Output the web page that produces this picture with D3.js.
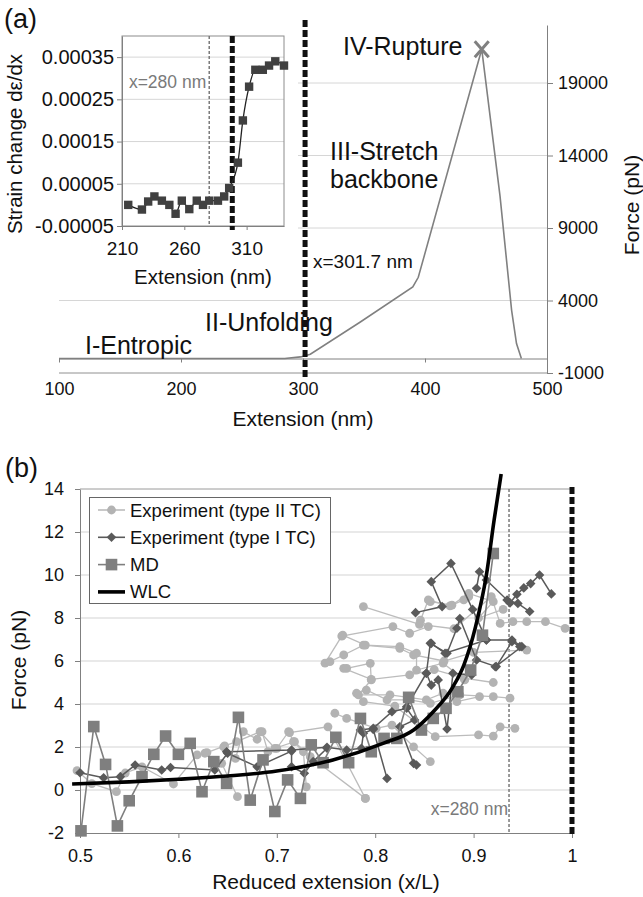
<!DOCTYPE html>
<html>
<head>
<meta charset="utf-8">
<script src="https://cdn.jsdelivr.net/npm/d3@7"></script>
<style>
body { margin: 0; background: #fff; }
text { font-family: "Liberation Sans", Arial, sans-serif; fill: #111; }
</style>
</head>
<body>
<script>
// ---------- datos panel (a): curva fuerza-extension
var mainExt   = [100, 285, 298, 306, 347, 390, 394.5, 446.5, 461.5, 471, 475, 479];
var mainForce = [0, 0, 110, 300, 2520, 4930, 5600, 21330, 11200, 3320, 1030, 0];
var mainXTicks = [100, 200, 300, 400, 500];
var mainYTicks = [-1000, 4000, 9000, 14000, 19000];
var xCrit = 301.7;

// inset: cambio de deformacion
var insetExt    = [215, 226, 231, 236, 242, 248, 253, 258, 264, 270, 275, 280, 287, 292, 296, 303, 307, 312, 317, 323, 328, 333, 340];
var insetStrain = [0, -0.000011, 0.000008, 0.00002, 0.00001, 0, -0.000021, 0.00001, -0.00001, 0.00001, 0, 0.00001,
                   0.00001, 0.00002, 0.00004, 0.0001, 0.0002, 0.00028, 0.00032, 0.00032, 0.00033, 0.00034, 0.00033];
var insetXTicks = [210, 260, 310];
var insetYTicks = [-0.00005, 0.00005, 0.00015, 0.00025, 0.00035];
var insetYLabels = ["-0.00005", "0.00005", "0.00015", "0.00025", "0.00035"];
var insetDash = 298.5;

// ---------- datos panel (b)
var bXTicks = [0.5, 0.6, 0.7, 0.8, 0.9, 1];
var bYTicks = [-2, 0, 2, 4, 6, 8, 10, 12, 14];
var x280 = 0.936;

var mdX = [0.501, 0.514, 0.526, 0.538, 0.550, 0.563, 0.575, 0.587, 0.600, 0.612, 0.624, 0.636, 0.649, 0.661, 0.673, 0.686, 0.698, 0.711,
           0.724, 0.735, 0.747, 0.760, 0.773, 0.785, 0.796, 0.809, 0.822, 0.834, 0.847, 0.859, 0.872, 0.884, 0.897, 0.909, 0.920];
var mdF = [-1.9, 2.95, 1.19, -1.67, -0.5, 0.62, 1.66, 2.51, 1.66, 2.17, -0.08, 1.32, 0.31, 3.38, -0.47, 1.4, -1.0, 0.47,
           -0.39, 2.1, 1.27, 2.45, 1.27, 3.33, 1.78, 2.4, 2.4, 4.31, 2.79, 3.33, 3.8, 4.57, 5.58, 7.2, 11.0];

var wlcX = [0.492, 0.55, 0.60, 0.65, 0.70, 0.757, 0.808, 0.839, 0.859, 0.879, 0.89, 0.902, 0.913, 0.921, 0.928];
var wlcF = [0.28, 0.38, 0.5, 0.65, 0.88, 1.4, 2.17, 2.79, 3.64, 4.8, 5.8, 7.6, 10.0, 12.6, 14.7];

// Experimento tipo II TC (circulos claros), una lista por traza
var typeII = [
  [[0.749,5.9],[0.766,7.16],[0.818,7.6],[0.835,7.29],[0.854,7.6],[0.846,7.9],[0.854,8.84],[0.876,8.56],[0.890,8.84],[0.895,8.99]],
  [[0.788,8.53],[0.845,7.7],[0.880,7.5],[0.918,8.99],[0.927,7.75],[0.940,7.83],[0.954,7.83],[0.973,7.83],[0.993,7.52]],
  [[0.754,5.97],[0.768,6.28],[0.788,6.74],[0.825,6.59],[0.839,6.28],[0.870,6.0],[0.900,6.4],[0.954,6.51]],
  [[0.768,5.66],[0.796,5.15],[0.835,5.35],[0.860,5.6],[0.890,5.2],[0.920,5.0]],
  [[0.781,4.5],[0.791,4.65],[0.812,4.19],[0.835,4.19],[0.856,4.03],[0.886,4.42],[0.920,4.34],[0.937,4.27]],
  [[0.788,4.11],[0.820,3.9],[0.861,2.48],[0.905,2.56],[0.920,2.51],[0.927,2.94],[0.942,2.87]],
  [[0.759,3.57],[0.771,3.33],[0.801,2.87],[0.817,3.02],[0.839,2.01],[0.856,1.32]],
  [[0.713,2.67],[0.752,2.94],[0.790,-0.39]],
  [[0.856,8.76],[0.878,8.6],[0.895,9.14],[0.920,8.76],[0.905,8.0],[0.930,8.4]],
  [[0.767,7.2],[0.790,6.74],[0.825,6.67],[0.842,6.36],[0.842,5.58],[0.869,5.9],[0.891,5.12]],
  [[0.771,5.66],[0.795,5.89],[0.796,5.12],[0.783,4.42],[0.815,4.42],[0.852,4.19],[0.869,4.5],[0.883,4.11],[0.906,4.34]],
  [[0.497,0.9],[0.512,0.3],[0.537,-0.08],[0.546,0.79],[0.563,1.08],[0.595,0.28],[0.619,1.63],[0.627,1.71],[0.644,1.24],[0.660,-0.31]],
  [[0.646,2.0],[0.658,1.47],[0.666,2.71],[0.680,2.36],[0.685,2.71],[0.691,1.78],[0.700,1.94],[0.712,2.71],[0.717,2.25],[0.727,1.78],[0.730,0.15]],
  [[0.629,1.74],[0.647,2.05],[0.659,2.25],[0.683,2.71],[0.698,1.94],[0.718,2.25],[0.734,1.55],[0.790,-0.39]]
];

// Experimento tipo I TC (rombos oscuros)
var typeI = [
  [[0.500,0.8],[0.524,0.57],[0.541,0.62],[0.556,1.16],[0.583,0.93],[0.592,1.05],[0.637,0.93],[0.650,1.71],[0.680,1.08],[0.715,1.81],[0.715,1.08],[0.728,0.78],[0.737,1.32],[0.751,1.94]],
  [[0.649,1.78],[0.715,1.86],[0.751,1.99],[0.771,1.86],[0.786,1.94],[0.788,2.64],[0.798,2.82],[0.812,0.54]],
  [[0.785,2.79],[0.798,2.87],[0.817,3.64],[0.832,3.80],[0.840,3.26],[0.825,2.94],[0.839,1.24],[0.842,1.16]],
  [[0.832,3.87],[0.852,5.43],[0.857,4.88],[0.864,5.12],[0.873,2.84],[0.879,5.43],[0.898,5.35]],
  [[0.852,5.43],[0.856,6.82],[0.873,6.36],[0.883,7.52],[0.886,7.98],[0.903,6.05],[0.923,5.74],[0.939,6.9],[0.947,6.67]],
  [[0.841,8.25],[0.868,8.53],[0.857,9.69],[0.877,10.54],[0.899,8.4],[0.913,6.98]],
  [[0.903,9.38],[0.906,10.15],[0.913,9.77],[0.934,8.84],[0.945,8.68],[0.957,8.3]],
  [[0.937,8.7],[0.944,9.1],[0.951,9.4],[0.958,9.6],[0.967,10.0],[0.979,9.12]],
  [[0.857,6.82],[0.871,6.36],[0.913,6.98],[0.939,6.98],[0.949,6.67],[0.922,5.73]]
];

var legendNames = ["Experiment (type II TC)", "Experiment (type I TC)", "MD", "WLC"];

// ---------- lienzo
var svg = d3.select("body").append("svg")
    .attr("width", 643)
    .attr("height", 897);

function plainAxis(g, size) {
  g.attr("font-family", null).attr("font-size", null);
  g.select(".domain").attr("stroke", "#808080");
  g.selectAll(".tick line").attr("stroke", "#808080");
  g.selectAll(".tick text").attr("font-size", size).attr("fill", "#111");
}

// ================= panel (a)
var xa = d3.scaleLinear().domain([100, 500]).range([59, 547]);
var ya = d3.scaleLinear().domain([-1000, 23000]).range([373, 25]);

// rejilla
svg.append("g").selectAll("line").data(mainYTicks).enter().append("line")
    .attr("x1", xa(100)).attr("x2", xa(500))
    .attr("y1", function(d) { return ya(d); })
    .attr("y2", function(d) { return ya(d); })
    .attr("stroke", function(d) { return d === -1000 ? "#909090" : "#d6d6d6"; });

// eje X (cruza en 0, etiquetas abajo)
var gxa = svg.append("g")
    .attr("transform", "translate(0," + ya(0) + ")")
    .call(d3.axisBottom(xa).tickValues(mainXTicks).tickSize(4).tickSizeOuter(0).tickFormat(String));
plainAxis(gxa, 18);
gxa.selectAll(".tick text").attr("y", 395 - ya(0)).attr("dy", 0);

// eje Y derecho
var gya = svg.append("g")
    .attr("transform", "translate(" + xa(500) + ",0)")
    .call(d3.axisRight(ya).tickValues(mainYTicks).tickSize(6).tickSizeOuter(0).tickPadding(5).tickFormat(String));
plainAxis(gya, 18);

// curva
var lineA = d3.line()
    .x(function(d, i) { return xa(mainExt[i]); })
    .y(function(d) { return ya(d); });
svg.append("path")
    .attr("d", lineA(mainForce))
    .attr("fill", "none")
    .attr("stroke", "#808080")
    .attr("stroke-width", 1.6);

// marca de ruptura
var iPeak = mainForce.indexOf(d3.max(mainForce));
var px = xa(mainExt[iPeak]), py = ya(mainForce[iPeak]);
svg.append("path")
    .attr("d", "M" + (px - 7) + "," + (py - 8) + "L" + (px + 7) + "," + (py + 8) +
               "M" + (px + 7) + "," + (py - 8) + "L" + (px - 7) + "," + (py + 8))
    .attr("stroke", "#808080").attr("stroke-width", 3).attr("fill", "none");

// textos del panel (a)
svg.append("text").attr("x", 343).attr("y", 55).attr("font-size", 25).text("IV-Rupture");
svg.append("text").attr("x", 330).attr("y", 160).attr("font-size", 25).text("III-Stretch");
svg.append("text").attr("x", 330).attr("y", 188).attr("font-size", 25).text("backbone");
svg.append("text").attr("x", 313).attr("y", 268).attr("font-size", 19).text("x=301.7 nm");
svg.append("text").attr("x", 205).attr("y", 331).attr("font-size", 25).text("II-Unfolding");
svg.append("text").attr("x", 85).attr("y", 354).attr("font-size", 25).text("I-Entropic");
svg.append("text").attr("x", 303).attr("y", 426).attr("font-size", 21).attr("text-anchor", "middle").text("Extension (nm)");
svg.append("text").attr("transform", "translate(639,205) rotate(-90)")
    .attr("font-size", 21).attr("text-anchor", "middle").text("Force (pN)");

// ---------- inset
svg.append("rect").attr("x", 0).attr("y", 30).attr("width", 298).attr("height", 262).attr("fill", "#fff");

var xi = d3.scaleLinear().domain([210, 340]).range([122, 284]);
var yi = d3.scaleLinear().domain([-0.00005, 0.0004]).range([226, 36]);

svg.append("g").selectAll("line").data(insetYTicks.slice(1)).enter().append("line")
    .attr("x1", xi(210)).attr("x2", xi(340))
    .attr("y1", function(d) { return yi(d); })
    .attr("y2", function(d) { return yi(d); })
    .attr("stroke", "#d6d6d6");

svg.append("rect")
    .attr("x", xi(210)).attr("y", yi(0.0004))
    .attr("width", xi(340) - xi(210)).attr("height", yi(-0.00005) - yi(0.0004))
    .attr("fill", "none").attr("stroke", "#8c8c8c");

var gyi = svg.append("g")
    .attr("transform", "translate(" + xi(210) + ",0)")
    .call(d3.axisLeft(yi).tickValues(insetYTicks).tickSize(5).tickSizeOuter(0)
          .tickFormat(function(d, i) { return insetYLabels[i]; }));
plainAxis(gyi, 20);

var gxi = svg.append("g")
    .attr("transform", "translate(0," + yi(-0.00005) + ")")
    .call(d3.axisBottom(xi).tickValues(insetXTicks).tickSize(4).tickSizeOuter(0).tickFormat(String));
plainAxis(gxi, 19);
gxi.selectAll(".tick text").attr("y", 29).attr("dy", 0);

// lineas verticales del inset
svg.append("line")
    .attr("x1", xi(280)).attr("x2", xi(280)).attr("y1", yi(0.0004)).attr("y2", yi(-0.00005))
    .attr("stroke", "#7a7a7a").attr("stroke-width", 1.5).attr("stroke-dasharray", "3,2");
svg.append("text").attr("x", xi(280) - 3).attr("y", 88).attr("font-size", 17.5)
    .attr("text-anchor", "end").style("fill", "#7a7a7a").text("x=280 nm");
svg.append("line")
    .attr("x1", xi(insetDash)).attr("x2", xi(insetDash)).attr("y1", yi(0.0004)).attr("y2", yi(-0.00005) + 4)
    .attr("stroke", "#111").attr("stroke-width", 5).attr("stroke-dasharray", "7,3");

var lineI = d3.line()
    .x(function(d, i) { return xi(insetExt[i]); })
    .y(function(d) { return yi(d); })
    .curve(d3.curveMonotoneX);
svg.append("path").attr("d", lineI(insetStrain))
    .attr("fill", "none").attr("stroke", "#222").attr("stroke-width", 1.3);
svg.append("g").selectAll("rect").data(insetStrain).enter().append("rect")
    .attr("x", function(d, i) { return xi(insetExt[i]) - 4.2; })
    .attr("y", function(d) { return yi(d) - 4.2; })
    .attr("width", 8.4).attr("height", 8.4)
    .attr("fill", "#404040");

svg.append("text").attr("x", 203).attr("y", 284).attr("font-size", 20.5)
    .attr("text-anchor", "middle").text("Extension (nm)");
svg.append("text").attr("transform", "translate(22,144) rotate(-90)")
    .attr("font-size", 20.5).attr("text-anchor", "middle").text("Strain change dε/dx");

// linea critica principal
svg.append("line")
    .attr("x1", xa(xCrit)).attr("x2", xa(xCrit)).attr("y1", 20).attr("y2", 378)
    .attr("stroke", "#111").attr("stroke-width", 5).attr("stroke-dasharray", "7,3");

svg.append("text").attr("x", 4).attr("y", 28).attr("font-size", 27).text("(a)");

// ================= panel (b)
var xb = d3.scaleLinear().domain([0.5, 1]).range([80, 572]);
var yb = d3.scaleLinear().domain([-2, 14]).range([833, 489]);

svg.append("g").selectAll("line").data(bYTicks.slice(1)).enter().append("line")
    .attr("x1", xb(0.5)).attr("x2", xb(1))
    .attr("y1", function(d) { return yb(d); })
    .attr("y2", function(d) { return yb(d); })
    .attr("stroke", function(d) { return d === 14 ? "#9a9a9a" : "#d3d3d3"; });

var gxb = svg.append("g")
    .attr("transform", "translate(0," + yb(-2) + ")")
    .call(d3.axisBottom(xb).tickValues(bXTicks).tickSize(5).tickSizeOuter(0).tickFormat(String));
plainAxis(gxb, 18);
gxb.selectAll(".tick text").attr("y", 29).attr("dy", 0);

var gyb = svg.append("g")
    .attr("transform", "translate(" + xb(0.5) + ",0)")
    .call(d3.axisLeft(yb).tickValues(bYTicks).tickSize(5).tickSizeOuter(0).tickPadding(11).tickFormat(String));
plainAxis(gyb, 18);

// lineas verticales
svg.append("line")
    .attr("x1", xb(x280)).attr("x2", xb(x280)).attr("y1", yb(14)).attr("y2", yb(-2))
    .attr("stroke", "#7a7a7a").attr("stroke-width", 1.5).attr("stroke-dasharray", "3,2");
svg.append("text").attr("x", xb(x280) - 1).attr("y", 815).attr("font-size", 17.5)
    .attr("text-anchor", "end").style("fill", "#7a7a7a").text("x=280 nm");
svg.append("line")
    .attr("x1", xb(1)).attr("x2", xb(1)).attr("y1", yb(14) - 2).attr("y2", yb(-2) + 3)
    .attr("stroke", "#111").attr("stroke-width", 5).attr("stroke-dasharray", "7,3");

var lineXY = d3.line()
    .x(function(d) { return xb(d[0]); })
    .y(function(d) { return yb(d[1]); });

// tipo II
var gII = svg.append("g");
typeII.forEach(function(tr) {
  gII.append("path").attr("d", lineXY(tr)).attr("fill", "none")
      .attr("stroke", "#bcbcbc").attr("stroke-width", 1.3);
});
typeII.forEach(function(tr) {
  gII.append("g").selectAll("circle").data(tr).enter().append("circle")
      .attr("cx", function(d) { return xb(d[0]); })
      .attr("cy", function(d) { return yb(d[1]); })
      .attr("r", 4.4).attr("fill", "#b3b3b3");
});

// tipo I
var diamond = function(cx, cy, r) {
  return "M" + cx + "," + (cy - r) + "L" + (cx + r) + "," + cy + "L" + cx + "," + (cy + r) + "L" + (cx - r) + "," + cy + "Z";
};
var gI = svg.append("g");
typeI.forEach(function(tr) {
  gI.append("path").attr("d", lineXY(tr)).attr("fill", "none")
      .attr("stroke", "#5a5a5a").attr("stroke-width", 1.5);
  gI.append("g").selectAll("path").data(tr).enter().append("path")
      .attr("d", function(d) { return diamond(xb(d[0]), yb(d[1]), 4.8); })
      .attr("fill", "#5a5a5a");
});

// MD
var mdPts = mdX.map(function(x, i) { return [x, mdF[i]]; });
svg.append("path").attr("d", lineXY(mdPts)).attr("fill", "none")
    .attr("stroke", "#7f7f7f").attr("stroke-width", 1.6);
svg.append("g").selectAll("rect").data(mdPts).enter().append("rect")
    .attr("x", function(d) { return xb(d[0]) - 5.8; })
    .attr("y", function(d) { return yb(d[1]) - 5.8; })
    .attr("width", 11.6).attr("height", 11.6)
    .attr("fill", "#7f7f7f");

// WLC
var wlcPts = wlcX.map(function(x, i) { return [x, wlcF[i]]; });
svg.append("path").attr("d", lineXY.curve(d3.curveMonotoneX)(wlcPts)).attr("fill", "none")
    .attr("stroke", "#000").attr("stroke-width", 3.6);
lineXY.curve(d3.curveLinear);

// leyenda
var lg = svg.append("g");
lg.append("rect").attr("x", 89.5).attr("y", 497.5).attr("width", 241).attr("height", 106)
    .attr("fill", "#fff").attr("stroke", "#666");
legendNames.forEach(function(name, i) {
  var cy = 510 + i * 27.3;
  var col = ["#bcbcbc", "#5a5a5a", "#7f7f7f", "#000"][i];
  lg.append("line").attr("x1", 98).attr("x2", 125).attr("y1", cy).attr("y2", cy)
      .attr("stroke", col).attr("stroke-width", i === 3 ? 3.6 : 1.6);
  if (i === 0) lg.append("circle").attr("cx", 111.5).attr("cy", cy).attr("r", 4.4).attr("fill", "#b3b3b3");
  if (i === 1) lg.append("path").attr("d", diamond(111.5, cy, 4.8)).attr("fill", "#5a5a5a");
  if (i === 2) lg.append("rect").attr("x", 105.7).attr("y", cy - 5.8).attr("width", 11.6).attr("height", 11.6).attr("fill", "#7f7f7f");
  lg.append("text").attr("x", 130).attr("y", cy + 6.5).attr("font-size", 18.5).text(name);
});

svg.append("text").attr("x", 326).attr("y", 889).attr("font-size", 21)
    .attr("text-anchor", "middle").text("Reduced extension (x/L)");
svg.append("text").attr("transform", "translate(26,660) rotate(-90)")
    .attr("font-size", 21).attr("text-anchor", "middle").text("Force (pN)");
svg.append("text").attr("x", 5).attr("y", 477).attr("font-size", 27).text("(b)");
</script>
</body>
</html>
